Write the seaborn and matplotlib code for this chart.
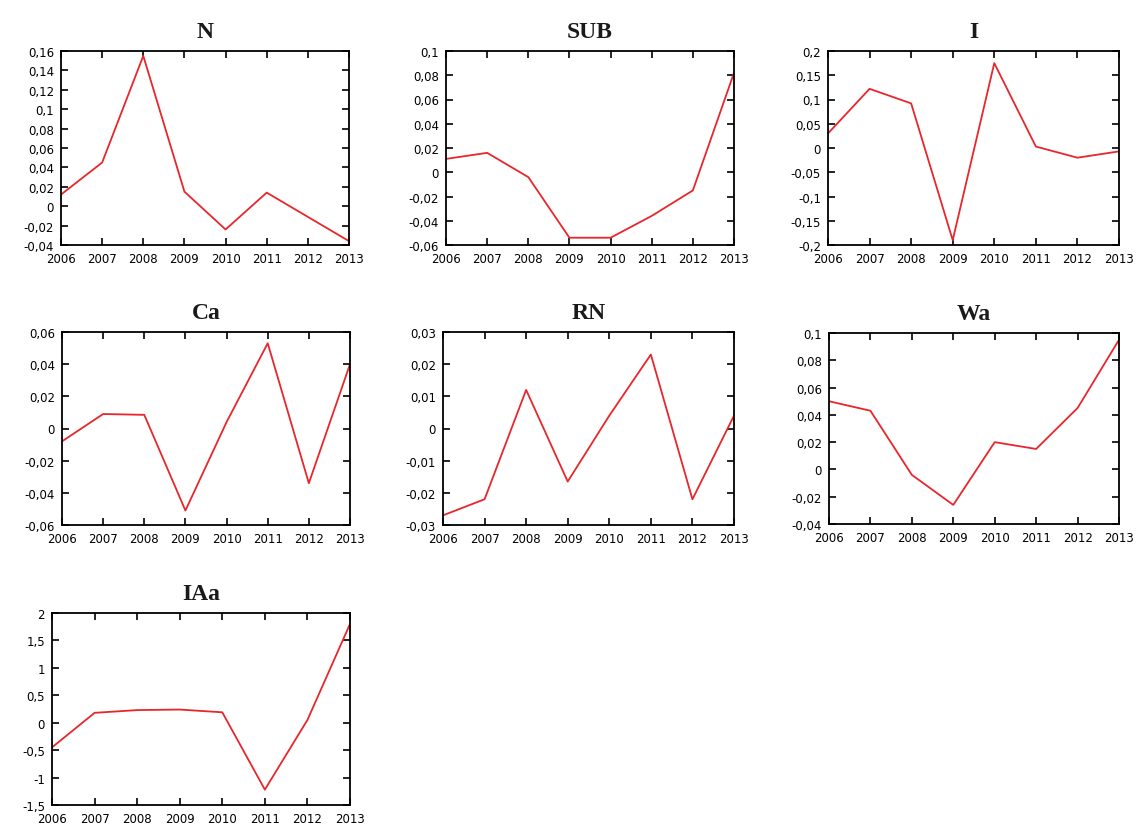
import matplotlib
matplotlib.use("Agg")
import matplotlib.pyplot as plt
import seaborn as sns
import pandas as pd
from matplotlib.ticker import FuncFormatter, MultipleLocator

years = [2006, 2007, 2008, 2009, 2010, 2011, 2012, 2013]
N = [0.012, 0.045, 0.155, 0.015, -0.024, 0.014, -0.011, -0.036]
SUB = [0.011, 0.016, -0.004, -0.054, -0.054, -0.036, -0.015, 0.082]
I = [0.030, 0.122, 0.092, -0.190, 0.175, 0.003, -0.020, -0.007]
Ca = [-0.008, 0.009, 0.0085, -0.051, 0.004, 0.053, -0.034, 0.040]
RN = [-0.027, -0.022, 0.012, -0.0165, 0.004, 0.023, -0.022, 0.004]
Wa = [0.050, 0.043, -0.004, -0.026, 0.020, 0.015, 0.045, 0.095]
IAa = [-0.45, 0.18, 0.23, 0.24, 0.19, -1.22, 0.05, 1.80]

titles = ["N", "SUB", "I", "Ca", "RN", "Wa", "IAa"]
series = [N, SUB, I, Ca, RN, Wa, IAa]
ylims = [(-0.04, 0.16), (-0.06, 0.1), (-0.2, 0.2), (-0.06, 0.06), (-0.03, 0.03), (-0.04, 0.1), (-1.5, 2)]
ysteps = [0.02, 0.02, 0.05, 0.02, 0.01, 0.02, 0.5]

sns.set_style("white")
plt.rcParams["font.family"] = ["DejaVu Sans"]
plt.rcParams["axes.unicode_minus"] = False

W, H = 1142, 829
fig = plt.figure(figsize=(W / 100, H / 100), dpi=100)

# pixel boxes: left, right, top, bottom
boxes = [
    (61, 349, 52, 246), (446, 734, 52, 246), (828, 1119, 52, 246),
    (62, 350, 333, 526), (443, 734, 333, 526), (829, 1119, 334, 525),
    (52, 350, 614, 806),
]

def fmt(v, pos):
    s = "%g" % round(v, 6)
    if s == "-0":
        s = "0"
    return s.replace(".", ",")

for t, vals, yl, st, (l, r, tp, b) in zip(titles, series, ylims, ysteps, boxes):
    ax = fig.add_axes([l / W, 1 - b / H, (r - l) / W, (b - tp) / H])
    df = pd.DataFrame({"year": years, "value": vals})
    sns.lineplot(data=df, x="year", y="value", ax=ax, color="#e8262b", linewidth=1.3)
    ax.set_xlim(2006, 2013)
    ax.set_ylim(*yl)
    ax.set_xticks(years)
    ax.yaxis.set_major_locator(MultipleLocator(st))
    ax.yaxis.set_major_formatter(FuncFormatter(fmt))
    ax.set_xlabel("")
    ax.set_ylabel("")
    ax.tick_params(direction="in", length=5, width=1.2, top=True, right=True,
                   bottom=True, left=True,
                   labelsize=8.5, colors="black", pad=5)
    for sp in ax.spines.values():
        sp.set_visible(True)
        sp.set_color("black")
        sp.set_linewidth(1.3)
    ax.set_title(t, fontsize=17, fontweight="bold", family="Liberation Serif",
                 color="#1a1a1a", pad=10)

fig.savefig("out.png", dpi=100)
